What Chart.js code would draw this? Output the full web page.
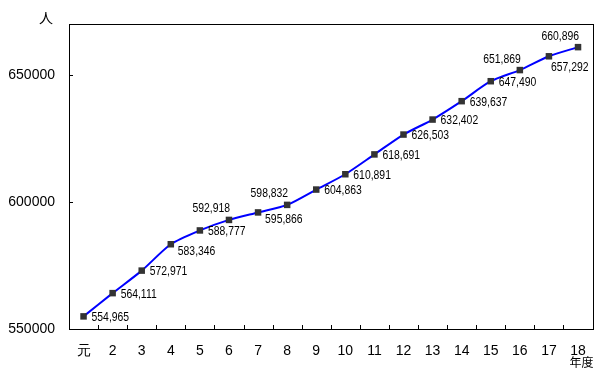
<!DOCTYPE html>
<html>
<head>
<meta charset="utf-8">
<script src="https://cdn.jsdelivr.net/npm/chart.js@4/dist/chart.umd.min.js"></script>
<style>
html,body{margin:0;padding:0;background:#fff;}
#wrap{width:600px;height:374px;position:relative;}
</style>
</head>
<body>
<div id="wrap"><canvas id="c" width="600" height="374"></canvas></div>
<script>
const categories = ['元','2','3','4','5','6','7','8','9','10','11','12','13','14','15','16','17','18'];
const population = [554965,564111,572971,583346,588777,592918,595866,598832,604863,610891,618691,626503,632402,639637,647490,651869,657292,660896];
const yTickValues = [550000,600000,650000];
const unitLabel = '人';
const xUnitLabel = '年度';

// label placement per point: 'r' right, 'rb' right-below, 'al' above-left, 'b' below
const labelPlace = {3:'rb',5:'al',6:'rb',7:'al',15:'al',16:'b',17:'al'};

const labelFont = '13px "Liberation Sans", Arial, sans-serif';
const labelSqueeze = 0.8;

const decor = {
  id:'decor',
  afterDatasetsDraw(chart){
    const ctx = chart.ctx, a = chart.chartArea;
    const xs = chart.scales.x, ys = chart.scales.y;
    ctx.save();
    ctx.strokeStyle = '#000'; ctx.lineWidth = 1;
    ctx.strokeRect(Math.round(a.left)+0.5, Math.round(a.top)+0.5, Math.round(a.right-a.left), Math.round(a.bottom-a.top));
    ctx.beginPath();
    for(let i=1;i<categories.length;i++){
      const x = Math.round((xs.getPixelForValue(i-1)+xs.getPixelForValue(i))/2)+0.5;
      ctx.moveTo(x, a.bottom); ctx.lineTo(x, a.bottom-4);
    }
    yTickValues.forEach(v=>{
      const y = Math.round(ys.getPixelForValue(v))+0.5;
      ctx.moveTo(a.left, y); ctx.lineTo(a.left+4, y);
    });
    ctx.stroke();
    // unit labels
    ctx.fillStyle = '#000';
    ctx.font = '14px "Noto Sans CJK JP", sans-serif';
    ctx.textAlign = 'center'; ctx.textBaseline = 'middle';
    ctx.fillText(unitLabel, 46, 18);
    ctx.font = '12px "Noto Sans CJK JP", sans-serif';
    ctx.textAlign = 'right';
    ctx.fillText(xUnitLabel, a.right+1, 362);
    // data labels
    const meta = chart.getDatasetMeta(0);
    ctx.font = labelFont;
    meta.data.forEach((pt,i)=>{
      const txt = population[i].toLocaleString('en-US');
      const p = labelPlace[i] || 'r';
      let x = pt.x, y = pt.y;
      ctx.textBaseline = 'middle';
      if(p==='r'){ctx.textAlign='left'; x+=8; y+=1;}
      else if(p==='rb'){ctx.textAlign='left'; x+=7; y+=7;}
      else if(p==='al'){ctx.textAlign='right'; x+=1; y-=11;}
      else if(p==='b'){ctx.textAlign='left'; x+=2; y+=11;}
      ctx.save();
      ctx.translate(x, y);
      ctx.scale(labelSqueeze, 1);
      ctx.fillText(txt, 0, 0);
      ctx.restore();
    });
    ctx.restore();
  }
};

new Chart(document.getElementById('c'), {
  type:'line',
  data:{
    labels:categories,
    datasets:[{
      data:population,
      borderColor:'#0000ff',
      borderWidth:2,
      tension:0.25,
      pointStyle:'rect',
      pointRadius:4.6,
      pointBackgroundColor:'#333333',
      pointBorderColor:'#333333',
      pointBorderWidth:0,
      clip:false
    }]
  },
  options:{
    responsive:false,
    animation:false,
    events:[],
    layout:{padding:{top:24,right:7,left:0,bottom:0}},
    plugins:{legend:{display:false},tooltip:{enabled:false}},
    scales:{
      x:{
        offset:true,
        grid:{display:false,drawTicks:false},
        border:{display:false},
        ticks:{color:'#000',font:{family:'"Liberation Sans", Arial, sans-serif',size:14},padding:14,maxRotation:0,autoSkip:false},
        afterFit(s){s.height=45;}
      },
      y:{
        min:550000,max:670000,
        grid:{display:false,drawTicks:false},
        border:{display:false},
        afterBuildTicks(s){s.ticks = yTickValues.map(v=>({value:v}));},
        ticks:{color:'#000',font:{family:'"Liberation Sans", Arial, sans-serif',size:14},padding:14,callback:v=>String(v)},
        afterFit(s){s.width=69;}
      }
    }
  },
  plugins:[decor]
});
</script>
</body>
</html>
